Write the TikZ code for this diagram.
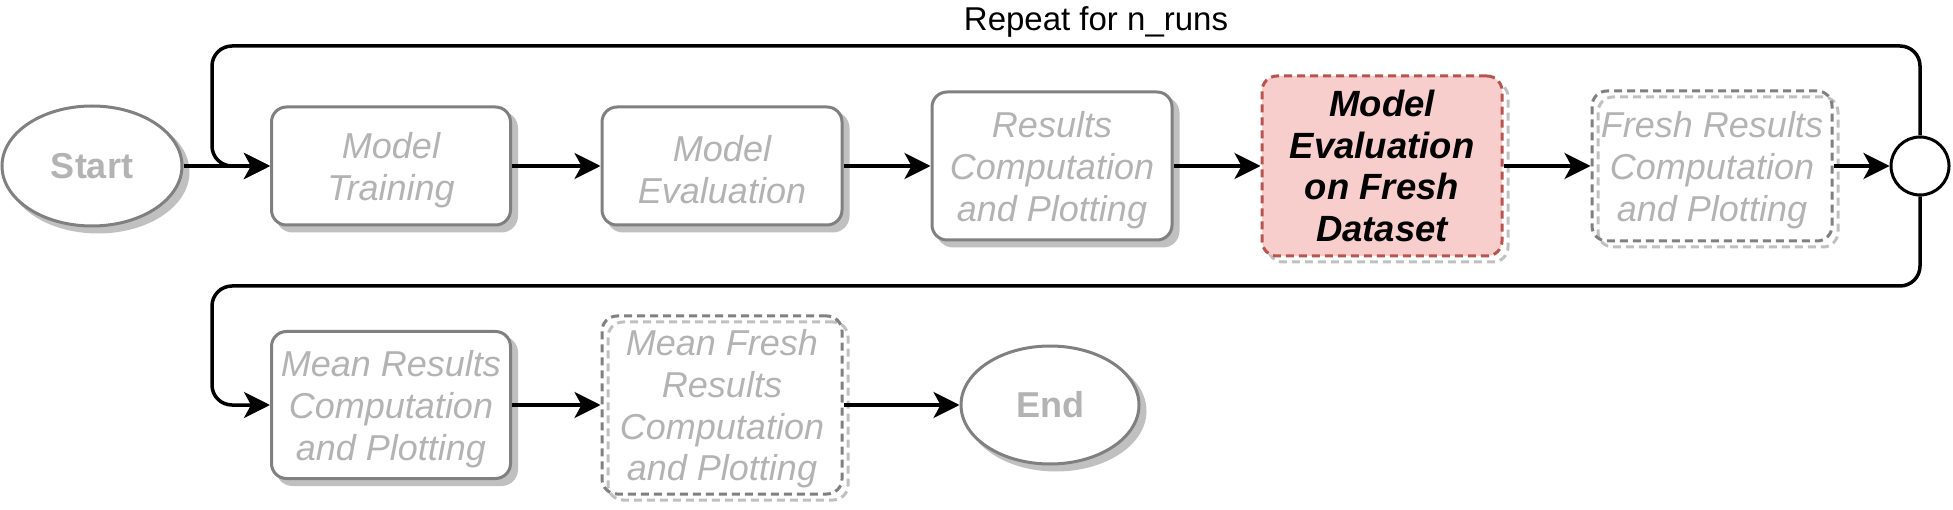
\documentclass[tikz,border=0pt]{standalone}
\usepackage{fontspec}
\setmainfont{Liberation Sans}
\usetikzlibrary{arrows.meta,shapes.geometric}
\definecolor{txtgray}{HTML}{B3B3B3}
\definecolor{strokegray}{HTML}{808080}
\definecolor{shadowgray}{HTML}{C0C0C0}
\definecolor{pinkfill}{HTML}{F8CECC}
\definecolor{pinkstroke}{HTML}{B85450}
\newcommand{\firstln}{\rule{0pt}{34pt}}
\tikzset{
  x=1pt, y=-1pt,
  nodefont/.style={font=\fontsize{36}{41.8}\selectfont},
  solidbox/.style={rectangle, rounded corners=15pt, draw=strokegray, line width=3pt, fill=white,
    align=center, text=txtgray, nodefont, inner sep=0pt,
    preaction={fill=shadowgray, draw=shadowgray, transform canvas={shift={(6pt,-6pt)}}}},
  dashbox/.style={rectangle, rounded corners=15pt, draw=strokegray, line width=3pt,
    dash pattern=on 8pt off 5pt, align=center, text=txtgray, nodefont, inner sep=0pt,
    preaction={draw=shadowgray, transform canvas={shift={(6pt,-6pt)}}}},
  freshbox/.style={rectangle, rounded corners=15pt, draw=pinkstroke, fill=pinkfill, line width=3pt,
    dash pattern=on 8pt off 5pt, align=center, text=black, inner sep=0pt,
    font=\fontsize{36.5}{41.8}\selectfont\bfseries\itshape,
    preaction={draw=shadowgray, transform canvas={shift={(6pt,-6pt)}}}},
  termnode/.style={ellipse, draw=strokegray, line width=3pt, fill=white, text=txtgray,
    font=\fontsize{36}{42}\selectfont\bfseries, inner sep=0pt,
    preaction={fill=shadowgray, draw=shadowgray, transform canvas={shift={(6pt,-6pt)}}}},
  joinnode/.style={circle, draw=black, line width=3pt, fill=white, minimum size=58pt, inner sep=0pt},
  arr/.style={draw=black, line width=3.5pt, -{Stealth[length=26pt,width=26pt,inset=7pt]}},
}
\begin{document}
\begin{tikzpicture}
\useasboundingbox (0,0) rectangle (1953,510);
% title
\node[font=\fontsize{33}{40}\selectfont, text=black] (title) at (1096,22) {Repeat for n\_runs};
% nodes
\node[termnode, minimum width=180pt, minimum height=120pt] (start) at (92,166) {Start};
\node[solidbox, minimum width=239pt, minimum height=118pt] (mt) at (391,166) {\firstln\itshape Model\\\itshape Training};
\node[solidbox, minimum width=240pt, minimum height=118pt] (me) at (722,166) {\firstln\itshape Model\\\itshape Evaluation};
\node[solidbox, minimum width=240pt, minimum height=148pt] (rc) at (1052,166) {\firstln\itshape Results\\\itshape Computation\\\itshape and Plotting};
\node[freshbox, minimum width=240pt, minimum height=180pt] (fe) at (1382,166) {Model\\Evaluation\\on Fresh\\Dataset};
\node[dashbox, minimum width=240pt, minimum height=150pt] (fr) at (1712,166) {\firstln\itshape Fresh Results\\\itshape Computation\\\itshape and Plotting};
\node[joinnode] (circ) at (1920,166) {};
\node[solidbox, minimum width=239pt, minimum height=147pt] (mr) at (391,405) {\firstln\itshape Mean Results\\\itshape Computation\\\itshape and Plotting};
\node[dashbox, minimum width=240pt, minimum height=178pt] (mf) at (722,405) {\firstln\itshape Mean Fresh\\\itshape Results\\\itshape Computation\\\itshape and Plotting};
\node[termnode, minimum width=178pt, minimum height=118pt] (end) at (1050,405) {End};
% loop corners
\coordinate (looptl) at (212,46);
\coordinate (loopbl) at (212,286);
% connectors
\draw[arr] (start) -- (mt);
\draw[arr] (mt) -- (me);
\draw[arr] (me) -- (rc);
\draw[arr] (rc) -- (fe);
\draw[arr] (fe) -- (fr);
\draw[arr] (fr) -- (circ);
\draw[arr, rounded corners=20pt] (circ.north) |- (looptl) |- (mt.west);
\draw[arr, rounded corners=20pt] (circ.south) |- (loopbl) |- (mr.west);
\draw[arr] (mr) -- (mf);
\draw[arr] (mf) -- (end);
\end{tikzpicture}
\end{document}
